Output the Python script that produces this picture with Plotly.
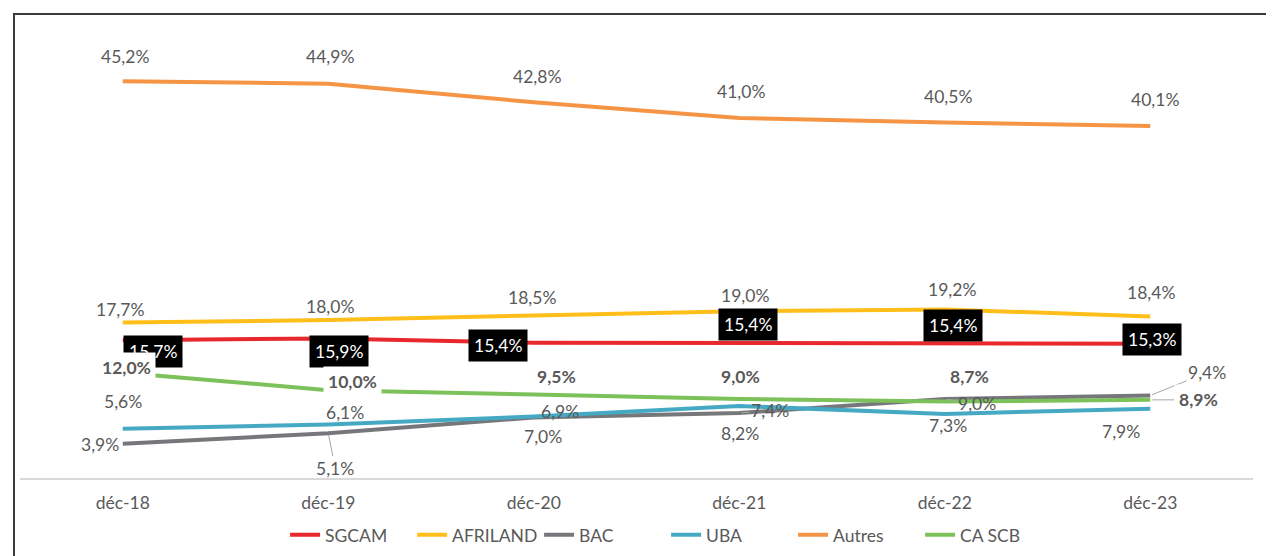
import plotly.graph_objects as go

# ---------------- data ----------------
categories = ["déc-18", "déc-19", "déc-20", "déc-21", "déc-22", "déc-23"]
sgcam = [15.7, 15.9, 15.4, 15.4, 15.4, 15.3]
afriland = [17.7, 18.0, 18.5, 19.0, 19.2, 18.4]
bac = [3.9, 5.1, 6.9, 7.4, 9.0, 9.4]
uba = [5.6, 6.1, 7.0, 8.2, 7.3, 7.9]
autres = [45.2, 44.9, 42.8, 41.0, 40.5, 40.1]
ca_scb = [12.0, 10.0, 9.5, 9.0, 8.7, 8.9]

# ---------------- style ----------------
FONT = "Lato"
TXT = "#595959"
FS = 17.5

series = [
    ("SGCAM", sgcam, "#E8282C"),
    ("AFRILAND", afriland, "#FFBE1A"),
    ("BAC", bac, "#76777A"),
    ("UBA", uba, "#45A9C4"),
    ("Autres", autres, "#F59445"),
    ("CA SCB", ca_scb, "#7CC15A"),
]

# label offsets in pixels (dx right, dy up) per series and point
offsets = {
    "Autres": [(2, 25), (2, 27), (3, 26), (2, 27), (3, 26), (5, 26)],
    "AFRILAND": [(-3, 13), (2, 13), (-2, 18), (6, 16), (7, 20), (1, 24)],
    "SGCAM": [(30, -11), (11, -13), (-36, -3), (9, 18), (8, 17), (2, 4)],
    "CA SCB": [(4, 5), (24, 9), (23, 18), (1, 22), (25, 25), (48, 0)],
    "BAC": [(-23, -1), (7, -35), (26, 6), (31, 3), (32, -5), (57, 23)],
    "UBA": [(0, 27), (17, 12), (9, -20), (1, -27), (3, -12), (-29, -23)],
}
leaders = {("BAC", 1), ("BAC", 3), ("BAC", 4), ("BAC", 5), ("CA SCB", 5)}


def fmt(v):
    return f"{v:.1f}%".replace(".", ",")


fig = go.Figure()
for name, vals, col in series:
    fig.add_trace(go.Scatter(
        x=categories, y=vals, name=name, mode="lines",
        line=dict(color=col, width=4), hoverinfo="skip",
    ))

annotations = []
order = ["Autres", "AFRILAND", "BAC", "UBA", "SGCAM", "CA SCB"]
data = {n: v for n, v, _ in series}
for name in order:
    vals = data[name]
    for i, v in enumerate(vals):
        dx, dy = offsets[name][i]
        txt = fmt(v)
        ann = dict(x=categories[i], y=v, xref="x", yref="y",
                   font=dict(family=FONT, size=FS, color=TXT))
        if name == "SGCAM":
            ann.update(bgcolor="#000000", borderpad=5,
                       font=dict(family=FONT, size=FS, color="#FFFFFF"))
        if name == "CA SCB":
            txt = f"<b>{txt}</b>"
            ann.update(bgcolor="#FFFFFF", borderpad=4)
        ann["text"] = txt
        if (name, i) in leaders:
            ann.update(showarrow=True, ax=dx, ay=-dy, arrowhead=0,
                       arrowwidth=1, arrowcolor="#A6A6A6", standoff=2)
        else:
            ann.update(showarrow=False, xshift=dx, yshift=dy)
        annotations.append(ann)

# page body adds an 8px offset; margins compensate
L, R, T, B = 12, 29, 31, 85
PW, PH = 1274 - L - R, 556 - T - B

fig.update_layout(
    width=1274, height=556,
    margin=dict(l=L, r=R, t=T, b=B),
    paper_bgcolor="#FFFFFF", plot_bgcolor="#FFFFFF",
    font=dict(family=FONT, size=FS, color=TXT),
    showlegend=True,
    legend=dict(orientation="h", x=0.524, xanchor="center", y=-0.127,
                yanchor="middle", font=dict(family=FONT, size=FS, color=TXT),
                itemwidth=30, entrywidth=82, entrywidthmode="pixels"),
    xaxis=dict(type="category", range=[-0.5, 5.5], showgrid=False,
               zeroline=False, showline=True, linecolor="#D9D9D9",
               linewidth=2, ticks="",
               tickfont=dict(family=FONT, size=FS, color=TXT),
               ticklabelstandoff=8),
    yaxis=dict(range=[0, 50], visible=False, showgrid=False),
    annotations=annotations,
    shapes=[dict(type="rect", xref="paper", yref="paper",
                 x0=-6 / PW, x1=1.2, y0=1 + 25 / PH, y1=-0.5,
                 line=dict(color="#3A3A3A", width=2),
                 fillcolor="rgba(0,0,0,0)", layer="above")],
)

fig.write_html("out.html")
